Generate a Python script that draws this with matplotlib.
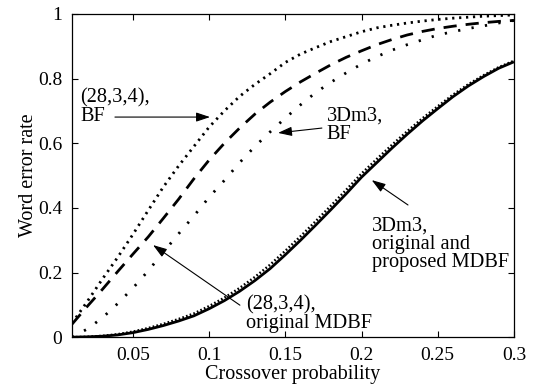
import numpy as np
import matplotlib
matplotlib.use("Agg")
import matplotlib.pyplot as plt

# crossover probability grid
p = [0.01, 0.02, 0.03, 0.04, 0.05, 0.06, 0.07, 0.08, 0.09, 0.10,
     0.11, 0.12, 0.13, 0.14, 0.15, 0.16, 0.17, 0.18, 0.19, 0.20,
     0.21, 0.22, 0.23, 0.24, 0.25, 0.26, 0.27, 0.28, 0.29, 0.30]

# (28,3,4), BF
wer_28_bf = [0.043, 0.110, 0.180, 0.247, 0.318, 0.392, 0.465, 0.530, 0.590, 0.650,
             0.700, 0.745, 0.782, 0.815, 0.850, 0.876, 0.896, 0.915, 0.930, 0.945,
             0.957, 0.965, 0.972, 0.978, 0.983, 0.987, 0.990, 0.993, 0.995, 0.997]
# (28,3,4), original MDBF
wer_28_mdbf = [0.040, 0.095, 0.148, 0.203, 0.257, 0.310, 0.368, 0.427, 0.490, 0.548,
               0.600, 0.647, 0.690, 0.727, 0.760, 0.790, 0.817, 0.843, 0.866, 0.886,
               0.905, 0.921, 0.935, 0.946, 0.955, 0.962, 0.968, 0.973, 0.977, 0.980]
# 3Dm3, BF
wer_3d_bf = [0.000, 0.025, 0.060, 0.104, 0.152, 0.205, 0.263, 0.320, 0.375, 0.433,
             0.485, 0.540, 0.590, 0.635, 0.678, 0.719, 0.757, 0.789, 0.818, 0.845,
             0.868, 0.888, 0.905, 0.920, 0.935, 0.945, 0.955, 0.963, 0.972, 0.980]
# 3Dm3, original MDBF
wer_3d_orig = [0.000, 0.001, 0.003, 0.007, 0.014, 0.024, 0.036, 0.050, 0.066, 0.088,
               0.113, 0.142, 0.175, 0.212, 0.255, 0.300, 0.347, 0.395, 0.444, 0.495,
               0.540, 0.585, 0.628, 0.669, 0.707, 0.744, 0.777, 0.806, 0.832, 0.852]
# 3Dm3, proposed MDBF
wer_3d_prop = [0.000, 0.001, 0.004, 0.009, 0.017, 0.028, 0.041, 0.056, 0.073, 0.096,
               0.122, 0.152, 0.186, 0.224, 0.267, 0.312, 0.359, 0.407, 0.456, 0.506,
               0.551, 0.595, 0.637, 0.677, 0.714, 0.750, 0.782, 0.810, 0.835, 0.855]

plt.rcParams['font.family'] = ['Liberation Serif', 'DejaVu Serif']
plt.rcParams['lines.scale_dashes'] = False

fig = plt.figure(figsize=(5.37, 3.88), dpi=100)
ax = fig.add_axes([0.134, 0.131, 0.823, 0.833])

ax.plot(p, wer_28_bf, color='black', lw=2.0, dashes=(1.6, 3.4))
ax.plot(p, wer_28_mdbf, color='black', lw=2.0, dashes=(9.5, 6.5))
ax.plot(p, wer_3d_bf, color='black', lw=2.0, dashes=(1.6, 8.2))
ax.plot(p, wer_3d_orig, color='black', lw=2.0, solid_capstyle='butt')
ax.plot(p, wer_3d_prop, color='black', lw=1.8, dashes=(1.2, 1.6))

ax.set_xlim(0.01, 0.3)
ax.set_ylim(0, 1)
ax.set_xticks([0.05, 0.1, 0.15, 0.2, 0.25, 0.3])
ax.set_xticklabels(['0.05', '0.1', '0.15', '0.2', '0.25', '0.3'])
ax.set_yticks([0, 0.2, 0.4, 0.6, 0.8, 1])
ax.set_yticklabels(['0', '0.2', '0.4', '0.6', '0.8', '1'])
ax.tick_params(direction='in', length=4, width=0.8, top=True, right=True,
               labelsize=14, pad=7)
for s in ax.spines.values():
    s.set_linewidth(0.9)

ax.set_xlabel('Crossover probability', fontsize=14.5)
ax.set_ylabel('Word error rate', fontsize=14.5)
ax.xaxis.set_label_coords(0.5, -0.086)
ax.yaxis.set_label_coords(-0.077, 0.5)

arrow = dict(arrowstyle='-|>,head_length=0.6,head_width=0.2', mutation_scale=14,
             lw=0.8, color='black', shrinkA=0, shrinkB=0)

ax.text(0.0153, 0.712, '(28,3,4),\nBF', fontsize=14.7, ha='left', va='center', linespacing=0.95)
ax.annotate('', xy=(0.1006, 0.681), xytext=(0.0382, 0.681), arrowprops=arrow)

ax.text(0.1773, 0.656, '3Dm3,\nBF', fontsize=14.7, ha='left', va='center', linespacing=1.0)
ax.annotate('', xy=(0.1452, 0.632), xytext=(0.174, 0.647), arrowprops=arrow)

ax.text(0.2069, 0.288, '3Dm3,\noriginal and\nproposed MDBF', fontsize=14.7,
        ha='left', va='center', linespacing=0.95)
ax.annotate('', xy=(0.2067, 0.486), xytext=(0.2305, 0.409), arrowprops=arrow)

ax.text(0.1242, 0.0712, '(28,3,4),\noriginal MDBF', fontsize=14.7,
        ha='left', va='center', linespacing=0.95)
ax.annotate('', xy=(0.0632, 0.285), xytext=(0.1202, 0.099), arrowprops=arrow)

fig.savefig('out.png', dpi=100)
